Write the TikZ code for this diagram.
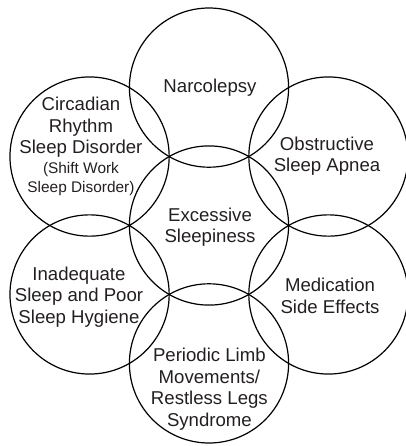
\documentclass[tikz,border=0pt]{standalone}
\usepackage{fontspec}
\setmainfont{Liberation Sans}
\usepackage{xcolor}
\definecolor{cLine}{HTML}{000000}
\definecolor{cText}{HTML}{231F20}
\usetikzlibrary{positioning}
\tikzset{
  node-petal/.style={draw=cLine,line width=0.6pt,circle,minimum size=79.6pt,inner sep=0pt},
  node-label/.style={align=center,text=cText,inner sep=0pt,
    font=\fontsize{9.3}{10.75}\selectfont},
  node-note/.style={font=\fontsize{7.7}{9.25}\selectfont},
}

\begin{document}
\begin{tikzpicture}
  \useasboundingbox (-104.5pt,-110.25pt) rectangle (98.5pt,112.75pt);
  % centre circle and the six circles around it
  \node[node-petal] (core) at (0,0) {};
  \foreach \ang/\name in {90/narco,30/osa,-30/med,-90/plm,210/isd,150/crsd}
    \node[node-petal] (\name) at (\ang:68.95pt) {};
  % labels
  \node[node-label] (coretxt)  at ([shift={(0.5pt,-0.75pt)}]core.center)  {Excessive\\Sleepiness};
  \node[node-label] (narcotxt) at ([shift={(0.5pt,-0.2pt)}]narco.center)  {Narcolepsy};
  \node[node-label] (osatxt)   at ([shift={(-0.7pt,0.3pt)}]osa.center)    {Obstructive\\Sleep Apnea};
  \node[node-label] (medtxt)   at ([shift={(0.8pt,-0.8pt)}]med.center)    {Medication\\Side Effects};
  \node[node-label] (plmtxt)   at ([shift={(0.2pt,-12.8pt)}]plm.center)   {Periodic Limb\\Movements/\\Restless Legs\\Syndrome};
  \node[node-label] (isdtxt)   at ([shift={(-5.3pt,-1.3pt)}]isd.center)   {Inadequate\\Sleep and Poor\\Sleep Hygiene};
  \node[node-label] (crsdtxt)  at ([shift={(-4.3pt,14.6pt)}]crsd.center)  {Circadian\\Rhythm\\Sleep Disorder};
  \node[node-label,node-note,below=2.2pt of crsdtxt] (crsdnote) {(Shift Work\\Sleep Disorder)};
\end{tikzpicture}
\end{document}
